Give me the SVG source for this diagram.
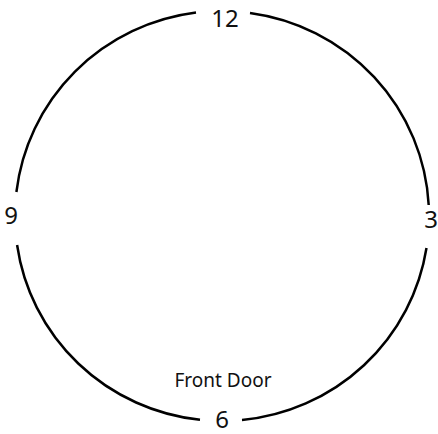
<svg xmlns="http://www.w3.org/2000/svg" width="438" height="434" viewBox="0 0 438 434">
<style>
.arc{fill:none;stroke:#000;stroke-width:2.5}
.num{font-family:"Noto Sans","Open Sans",sans-serif;font-size:24px;fill:#111;text-anchor:middle}
.lbl{font-family:"Noto Sans","Open Sans",sans-serif;font-size:19px;fill:#111;text-anchor:middle}
</style>
<rect width="438" height="434" fill="#fff"/>
<g id="connectors">
<path class="arc" d="M250,12.9 A207,205 0 0 1 428.7,205"/>
<path class="arc" d="M426.5,248 A207,205 0 0 1 242,420"/>
<path class="arc" d="M200,419.8 A207,205 0 0 1 17.1,245"/>
<path class="arc" d="M16.4,192 A207,205 0 0 1 196,12.6"/>
</g>
<g id="n12"><text class="num" x="225" y="27">12</text></g>
<g id="n3"><text class="num" x="431" y="228">3</text></g>
<g id="n6"><text class="num" x="222" y="428">6</text></g>
<g id="n9"><text class="num" x="11" y="224">9</text></g>
<g id="frontdoor"><text class="lbl" x="223" y="387">Front Door</text></g>
</svg>
